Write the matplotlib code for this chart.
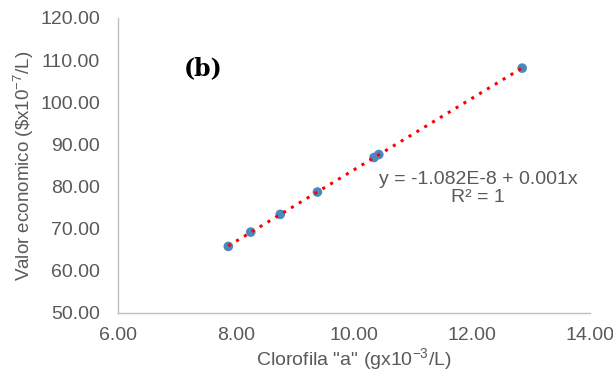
import numpy as np
import matplotlib
matplotlib.use('Agg')
import matplotlib.pyplot as plt

plt.rcParams['font.family'] = ['Liberation Sans', 'DejaVu Sans']
plt.rcParams['mathtext.fontset'] = 'custom'
plt.rcParams['mathtext.rm'] = 'Liberation Sans'

# data
clorofila = [7.87, 8.25, 8.75, 9.38, 10.34, 10.42, 12.85]
valor = [65.8, 69.2, 73.4, 78.7, 86.9, 87.6, 108.1]

x_ticks = [6, 8, 10, 12, 14]
y_ticks = [50, 60, 70, 80, 90, 100, 110, 120]

gray = '#595959'
fs = 14

fig = plt.figure(figsize=(6.13, 3.81), dpi=100)
ax = fig.add_axes([0.1925, 0.1785, 0.77, 0.7743])

# linear trendline over data range
coef = np.polyfit(clorofila, valor, 1)
xs = np.array([min(clorofila), max(clorofila)])
ax.plot(xs, np.polyval(coef, xs), color='#ff0000', linestyle=(0, (1, 2)), linewidth=2.2, zorder=3)

ax.scatter(clorofila, valor, s=48, color='#4a89bf', zorder=2, edgecolors='none')

ax.set_xlim(6, 14)
ax.set_ylim(50, 120)
ax.set_xticks(x_ticks)
ax.set_yticks(y_ticks)
ax.set_xticklabels([f'{t:.2f}' for t in x_ticks])
ax.set_yticklabels([f'{t:.2f}' for t in y_ticks])
ax.tick_params(axis='y', length=0, labelsize=fs, colors=gray, pad=13)
ax.tick_params(axis='x', length=0, labelsize=fs, colors=gray, pad=10)

for s in ['top', 'right']:
    ax.spines[s].set_visible(False)
for s in ['left', 'bottom']:
    ax.spines[s].set_color('#bfbfbf')
    ax.spines[s].set_linewidth(1)

ax.set_xlabel('Clorofila "a" (gx10$^{-3}$/L)', fontsize=fs, color=gray, labelpad=2)
ax.set_ylabel('Valor economico (\\$x10$^{-7}$/L)', fontsize=13.5, color=gray, labelpad=3)

ax.text(12.1, 79.6, 'y = -1.082E-8 + 0.001x\nR² = 1', ha='center', va='center',
        fontsize=fs, color=gray, linespacing=1.1)

ax.text(7.12, 108.0, '(b)', ha='left', va='center', fontsize=17, fontweight='bold',
        color='black', family=['DejaVu Serif'])

fig.savefig('out.png', dpi=100)
